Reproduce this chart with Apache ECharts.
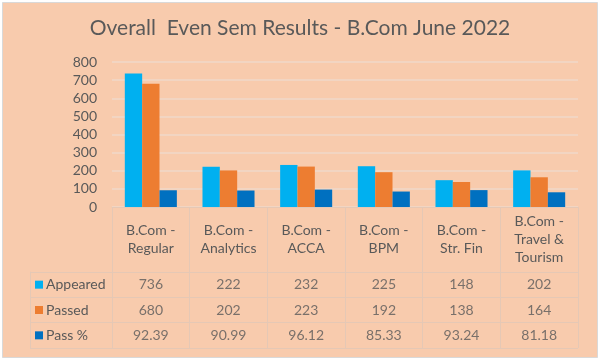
<!DOCTYPE html>
<html>
<head>
<meta charset="utf-8">
<script src="https://cdn.jsdelivr.net/npm/echarts@6/dist/echarts.min.js"></script>
<style>html,body{margin:0;padding:0;background:#fff;}#c{width:600px;height:361px;}</style>
</head>
<body>
<div id="c"></div>
<script>
const categories = ['B.Com -\nRegular', 'B.Com -\nAnalytics', 'B.Com -\nACCA', 'B.Com -\nBPM', 'B.Com -\nStr. Fin', 'B.Com -\nTravel &\nTourism'];
const appeared = [736, 222, 232, 225, 148, 202];
const passed = [680, 202, 223, 192, 138, 164];
const passPct = [92.39, 90.99, 96.12, 85.33, 93.24, 81.18];
const seriesNames = ['Appeared', 'Passed', 'Pass %'];
const colors = ['#00B0F0', '#ED7D31', '#0070C0'];
const yTicks = { min: 0, max: 800, interval: 100 };

const FONT = 'Lato';
const TXT = '#595959';
const TABLE_LINE = '#E5C8B5';
const GRID_LINE = '#F1D9CA';

const rows = [appeared, passed, passPct];
const tableData = [];
rows.forEach((arr, r) => arr.forEach((v, c) => {
  tableData.push([c, r, r === 2 ? v.toFixed(2) : String(v)]);
}));

const rich = {};
colors.forEach((col, i) => { rich['k' + i] = { width: 8, height: 8, backgroundColor: col }; });
rich.t = { fontFamily: FONT, fontSize: 14, color: TXT, padding: [0, 0, 0, 3] };

const chart = echarts.init(document.getElementById('c'), null, { renderer: 'canvas' });
chart.setOption({
  backgroundColor: '#ffffff',
  animation: false,
  title: {
    text: 'Overall  Even Sem Results - B.Com June 2022',
    left: 'center', top: 13,
    textStyle: { fontFamily: FONT, fontSize: 21, fontWeight: 'normal', color: TXT }
  },
  graphic: [{
    type: 'rect', z: -10, silent: true,
    shape: { x: 2.5, y: 2.5, width: 595, height: 355 },
    style: { fill: '#F8CBAD', stroke: '#D9D9D9', lineWidth: 1 }
  }],
  grid: [
    { left: 112, right: 22, top: 62, height: 145 },
    { left: 112, right: 22, top: 207, height: 65 },
    { left: 112, right: 22, top: 272, height: 76 }
  ],
  xAxis: [
    {
      gridIndex: 0, type: 'category', data: categories,
      axisLine: { show: true, lineStyle: { color: TABLE_LINE } },
      axisTick: { show: false },
      axisLabel: { interval: 0, margin: 32, verticalAlign: 'middle', lineHeight: 18,
        fontFamily: FONT, fontSize: 14, color: TXT }
    },
    {
      gridIndex: 1, type: 'category', data: categories,
      axisLine: { show: false }, axisTick: { show: false }, axisLabel: { show: false },
      splitLine: { show: true, interval: 0, lineStyle: { color: TABLE_LINE } }
    },
    {
      gridIndex: 2, type: 'category', data: categories,
      axisLine: { show: false }, axisTick: { show: false }, axisLabel: { show: false },
      splitLine: { show: true, interval: 0, lineStyle: { color: TABLE_LINE } }
    }
  ],
  yAxis: [
    {
      gridIndex: 0, type: 'value', min: yTicks.min, max: yTicks.max, interval: yTicks.interval,
      axisLine: { show: false }, axisTick: { show: false },
      axisLabel: { margin: 15, fontFamily: FONT, fontSize: 14, color: TXT },
      splitLine: { lineStyle: { color: GRID_LINE, width: 1.5 } }
    },
    {
      gridIndex: 1, type: 'value', show: false
    },
    {
      gridIndex: 2, type: 'category', data: seriesNames, inverse: true,
      axisLine: { show: false },
      axisTick: { show: true, length: 82, interval: 0, lineStyle: { color: TABLE_LINE } },
      axisLabel: {
        align: 'left', margin: 77, interval: 0,
        formatter: (v) => '{k' + seriesNames.indexOf(v) + '|}{t|' + v + '}',
        rich: rich
      },
      splitLine: { show: true, interval: 0, lineStyle: { color: TABLE_LINE } }
    },
    {
      gridIndex: 2, type: 'category', data: seriesNames, inverse: true, position: 'left', offset: 82,
      axisLine: { show: true, lineStyle: { color: TABLE_LINE } },
      axisTick: { show: false }, axisLabel: { show: false }, splitLine: { show: false }
    }
  ],
  series: [
    { name: seriesNames[0], type: 'bar', xAxisIndex: 0, yAxisIndex: 0, data: appeared,
      itemStyle: { color: colors[0] }, barGap: '0%', barCategoryGap: '33%' },
    { name: seriesNames[1], type: 'bar', xAxisIndex: 0, yAxisIndex: 0, data: passed,
      itemStyle: { color: colors[1] }, barGap: '0%', barCategoryGap: '33%' },
    { name: seriesNames[2], type: 'bar', xAxisIndex: 0, yAxisIndex: 0, data: passPct,
      itemStyle: { color: colors[2] }, barGap: '0%', barCategoryGap: '33%' },
    { type: 'scatter', xAxisIndex: 2, yAxisIndex: 2, data: tableData, symbolSize: 0,
      label: { show: true, position: 'inside', formatter: (p) => p.value[2],
        fontFamily: FONT, fontSize: 14, color: TXT } }
  ]
});
</script>
</body>
</html>
